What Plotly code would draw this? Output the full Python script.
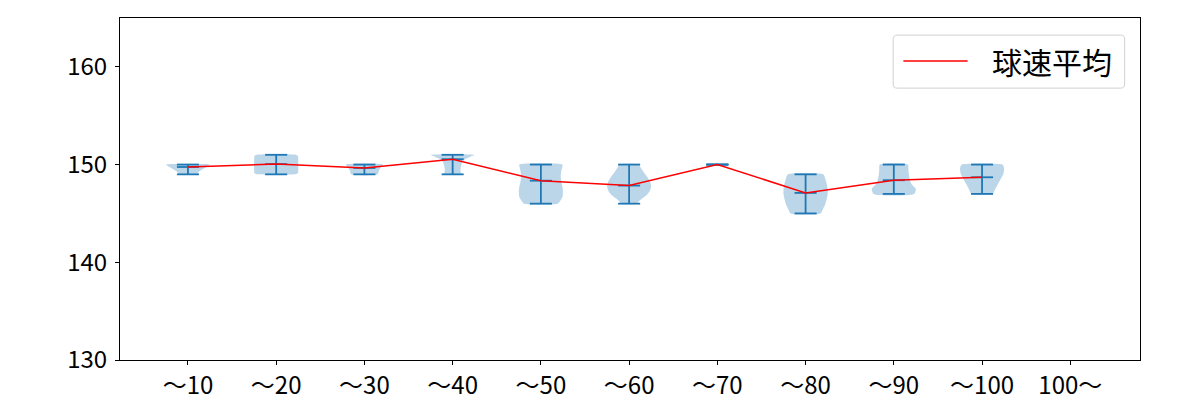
import plotly.graph_objects as go

categories = ["～10", "～20", "～30", "～40", "～50", "～60", "～70", "～80", "～90", "～100", "100～"]
mins = [149, 149, 149, 149, 146, 146, 150, 145, 147, 147]
maxs = [150, 151, 150, 151, 150, 150, 150, 149, 150, 150]
means = [149.75, 150.05, 149.65, 150.55, 148.35, 147.85, 150.0, 147.1, 148.4, 148.7]
legend_label = "球速平均"

# violin outlines: speed levels and half widths (category units)
prof_y = [
    [149, 149.25, 149.5, 149.75, 150],
    [149, 149.1, 149.5, 150, 150.5, 150.9, 151],
    [149, 149.25, 149.5, 149.75, 150],
    [149, 149.3, 149.6, 150, 150.3, 150.6, 150.8, 151],
    [146, 146.3, 146.7, 147.2, 147.7, 148.3, 148.8, 149.3, 149.7, 150],
    [146, 146.4, 146.8, 147.3, 147.8, 148.3, 148.8, 149.3, 149.7, 150],
    [],
    [145, 145.5, 146, 146.5, 147, 147.5, 148, 148.5, 149],
    [147, 147.5, 148, 148.5, 149, 149.5, 150],
    [147, 147.5, 148, 148.5, 149, 149.5, 149.8, 150],
]
prof_w = [
    [0.10, 0.12, 0.16, 0.21, 0.25],
    [0.22, 0.245, 0.25, 0.25, 0.25, 0.245, 0.22],
    [0.15, 0.16, 0.17, 0.19, 0.21],
    [0.10, 0.09, 0.09, 0.10, 0.11, 0.15, 0.20, 0.25],
    [0.19, 0.22, 0.245, 0.25, 0.245, 0.23, 0.225, 0.23, 0.24, 0.245],
    [0.08, 0.13, 0.19, 0.235, 0.25, 0.235, 0.20, 0.16, 0.13, 0.11],
    [],
    [0.17, 0.20, 0.225, 0.24, 0.25, 0.25, 0.24, 0.225, 0.20],
    [0.23, 0.25, 0.20, 0.18, 0.17, 0.165, 0.16],
    [0.12, 0.15, 0.18, 0.21, 0.24, 0.25, 0.245, 0.23],
]

BLUE = "#1f77b4"
CAP = 0.125
FONT = "Noto Sans CJK JP"

fig = go.Figure()

# violin bodies
for i, (ys, ws) in enumerate(zip(prof_y, prof_w)):
    if not ys:
        continue
    pos = i + 1
    xs = [pos + w for w in ws] + [pos - w for w in reversed(ws)]
    yy = list(ys) + list(reversed(ys))
    xs.append(xs[0]); yy.append(yy[0])
    fig.add_trace(go.Scatter(x=xs, y=yy, mode="lines", fill="toself",
                             fillcolor="rgba(31,119,180,0.3)",
                             line=dict(width=0, shape="spline", smoothing=0.6),
                             hoverinfo="skip", showlegend=False))

# vertical lines and caps
lx, ly = [], []
for i in range(len(mins)):
    pos = i + 1
    lx += [pos, pos, None]
    ly += [mins[i], maxs[i], None]
    for v in (mins[i], maxs[i], means[i]):
        lx += [pos - CAP, pos + CAP, None]
        ly += [v, v, None]
fig.add_trace(go.Scatter(x=lx, y=ly, mode="lines", line=dict(color=BLUE, width=1.8),
                         hoverinfo="skip", showlegend=False))

# mean line
fig.add_trace(go.Scatter(x=list(range(1, len(means) + 1)), y=means, mode="lines",
                         line=dict(color="red", width=1.5), name=legend_label,
                         showlegend=False))

# legend box (matplotlib style) drawn in paper coordinates
x0, x1, y0, y1 = 0.758, 0.985, 0.795, 0.950
rx, ry = 0.004, 0.012
path = (f"M{x0+rx},{y0} L{x1-rx},{y0} Q{x1},{y0} {x1},{y0+ry} "
        f"L{x1},{y1-ry} Q{x1},{y1} {x1-rx},{y1} L{x0+rx},{y1} "
        f"Q{x0},{y1} {x0},{y1-ry} L{x0},{y0+ry} Q{x0},{y0} {x0+rx},{y0} Z")
fig.add_shape(type="path", path=path, xref="paper", yref="paper",
              line=dict(color="#d0d0d0", width=1), fillcolor="rgba(255,255,255,0.8)",
              layer="above")
fig.add_shape(type="line", xref="paper", yref="paper", x0=0.768, x1=0.831,
              y0=0.874, y1=0.874, line=dict(color="red", width=1.5), layer="above")
fig.add_annotation(text=legend_label, xref="paper", yref="paper", x=0.853, y=0.874,
                   xanchor="left", yanchor="middle", showarrow=False,
                   font=dict(family=FONT, size=30, color="black"))

fig.update_layout(
    width=1200, height=400,
    margin=dict(l=120, r=60, t=18, b=40, autoexpand=False),
    paper_bgcolor="white", plot_bgcolor="white",
    font=dict(family=FONT, size=24, color="black"),
    showlegend=False,
    xaxis=dict(range=[0.23, 11.79], tickmode="array", automargin=False,
               tickvals=list(range(1, len(categories) + 1)), ticktext=categories,
               showgrid=False, zeroline=False, showline=True, mirror=True,
               linecolor="black", linewidth=1.2, ticks="outside", ticklen=4,
               tickcolor="black", tickfont=dict(family=FONT, size=24)),
    yaxis=dict(range=[130, 165], tickvals=[130, 140, 150, 160], automargin=False,
               showgrid=False, zeroline=False, showline=True, mirror=True,
               linecolor="black", linewidth=1.2, ticks="outside", ticklen=4,
               ticklabelstandoff=3,
               tickcolor="black", tickfont=dict(family=FONT, size=24)),
)

fig.write_html("out.html")
